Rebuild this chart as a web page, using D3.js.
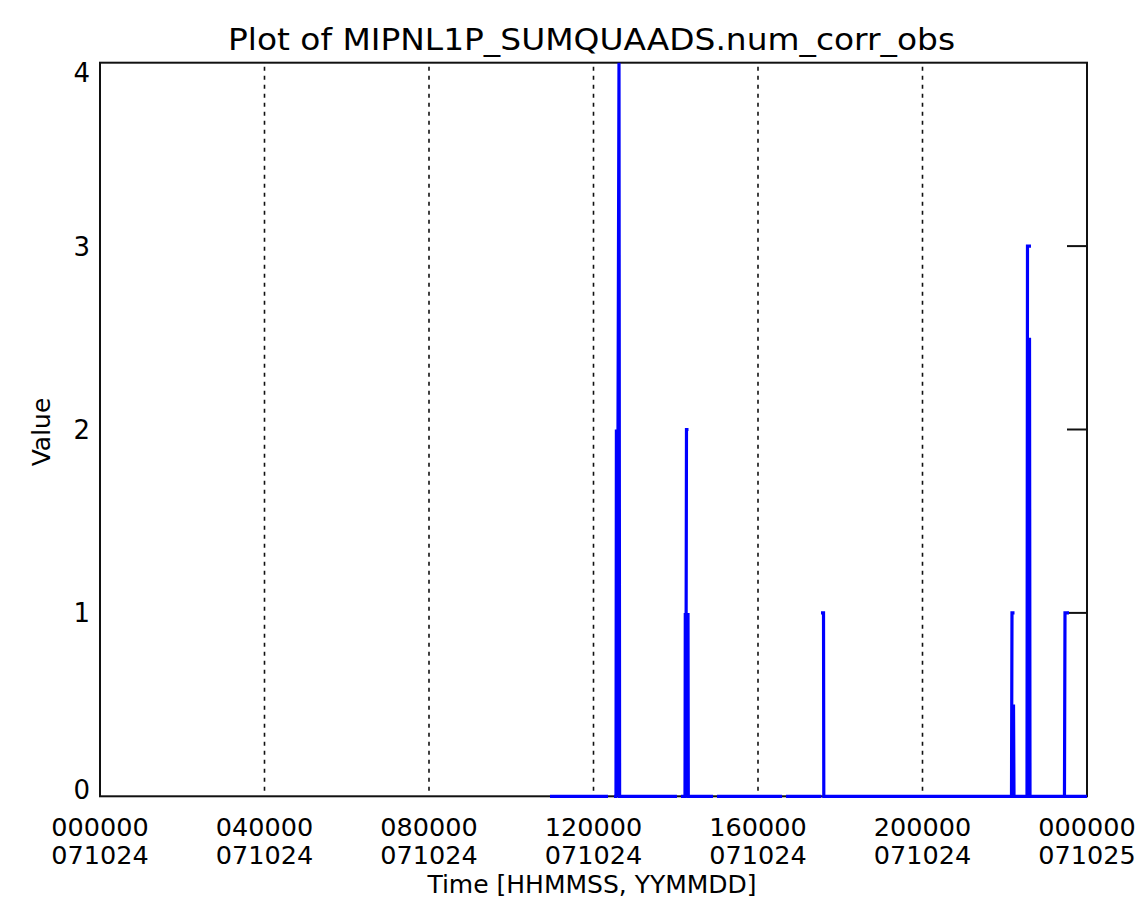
<!DOCTYPE html>
<html><head><meta charset="utf-8">
<script src="https://cdn.jsdelivr.net/npm/d3@7"></script>
<style>body{margin:0;background:#fff}svg{display:block}</style>
</head><body><svg id="c" width="1144" height="922"></svg>
<script>
const title = "Plot of MIPNL1P_SUMQUAADS.num_corr_obs";
const xLabel = "Time [HHMMSS, YYMMDD]";
const yLabel = "Value";
const xTickHours = [0, 4, 8, 12, 16, 20, 24];
const xTickTimes = ["000000", "040000", "080000", "120000", "160000", "200000", "000000"];
const xTickDates = ["071024", "071024", "071024", "071024", "071024", "071024", "071025"];
const yTicks = [0, 1, 2, 3, 4];
// hours since 000000 071024; null value = gap in the record
const seriesHours = [10.942, 12.353, 12.40, 12.499, 12.547, 12.557, 12.571, 12.620, 12.635,
  14.030, 14.08, 14.127, 14.225, 14.232, 14.244, 14.261, 14.310, 14.30, 14.298, 14.305,
  14.906, 14.95, 15.003, 16.584, 16.63, 16.681, 17.541, 17.54, 17.532, 17.593, 17.600,
  22.164, 22.176, 22.237, 22.23, 22.213, 22.225,
  22.541, 22.553, 22.638, 22.63, 22.602, 22.614,
  23.452, 23.465, 23.562, 23.56, 23.477, 24.0];
const seriesValues = [0, 0, null, 0, 0, 2, 0, 4, 0,
  0, null, 0, 0, 1, 0, 2, 2, null, 1, 0,
  0, null, 0, 0, null, 0, 0, null, 1, 1, 0,
  0, 1, 1, null, 0.5, 0,
  0, 3, 3, null, 2.5, 0,
  0, 1, 1, null, 0, 0];

const svg = d3.select("#c");
const L = 100, R = 1087, T = 62.7, B = 796.3;
const x = d3.scaleLinear().domain([0, 24]).range([L, R]);
const y = d3.scaleLinear().domain([0, 4]).range([B, T]);
const font = "'DejaVu Sans', sans-serif";

// dashed vertical grid
svg.append("g").selectAll("line").data(xTickHours.slice(1, -1)).join("line")
  .attr("x1", d => x(d)).attr("x2", d => x(d))
  .attr("y1", T + 4).attr("y2", B - 4)
  .attr("stroke", "#111").attr("stroke-width", 1.6).attr("stroke-dasharray", "4,5");

// frame
svg.append("rect").attr("x", L).attr("y", T).attr("width", R - L).attr("height", B - T)
  .attr("fill", "none").attr("stroke", "#111").attr("stroke-width", 2);

// right ticks
svg.append("g").selectAll("line").data(yTicks.slice(1, -1)).join("line")
  .attr("x1", R - 20).attr("x2", R).attr("y1", d => y(d)).attr("y2", d => y(d))
  .attr("stroke", "#111").attr("stroke-width", 2);

// data line
const pts = seriesHours.map((h, i) => ({h, v: seriesValues[i]}));
const line = d3.line().defined(d => d.v !== null).x(d => x(d.h)).y(d => y(d.v));
svg.append("path").attr("d", line(pts)).attr("fill", "none")
  .attr("stroke", "#0000ff").attr("stroke-width", 3.2).attr("stroke-linejoin", "miter");

// y tick labels
svg.append("g").selectAll("text").data(yTicks).join("text")
  .attr("x", 90).attr("y", d => Math.min(Math.max(y(d), T + 10), B - 7) + 9.5)
  .attr("text-anchor", "end").attr("font-family", font).attr("font-size", 26)
  .text(d => d);

// x tick labels
const xt = svg.append("g").selectAll("g").data(xTickHours).join("g");
xt.append("text").attr("x", d => x(d)).attr("y", 836).attr("text-anchor", "middle")
  .attr("font-family", font).attr("font-size", 25.5).text((d, i) => xTickTimes[i]);
xt.append("text").attr("x", d => x(d)).attr("y", 864).attr("text-anchor", "middle")
  .attr("font-family", font).attr("font-size", 25.5).text((d, i) => xTickDates[i]);

// titles
svg.append("text").attr("x", (L + R) / 2 - 2).attr("y", 50).attr("text-anchor", "middle")
  .attr("font-family", font).attr("font-size", 31)
  .attr("textLength", 727).attr("lengthAdjust", "spacingAndGlyphs").text(title);
svg.append("text").attr("x", 592).attr("y", 893).attr("text-anchor", "middle")
  .attr("font-family", font).attr("font-size", 25).text(xLabel);
svg.append("text").attr("transform", "translate(50,432) rotate(-90)").attr("text-anchor", "middle")
  .attr("font-family", font).attr("font-size", 25).text(yLabel);
</script></body></html>
